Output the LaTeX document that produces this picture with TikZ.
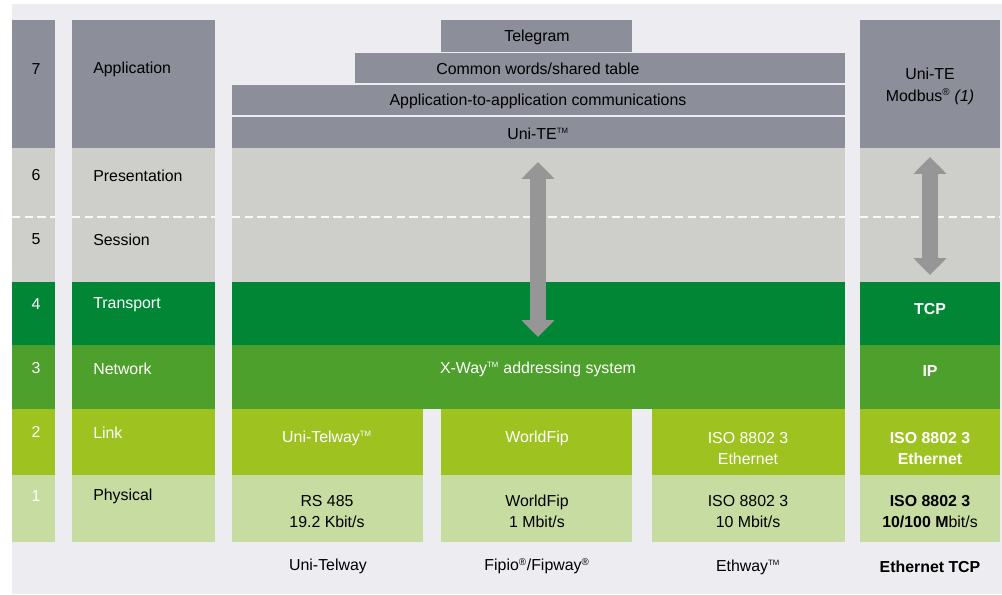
\documentclass[tikz,border=0pt]{standalone}
\usepackage{fontspec}
\setmainfont{Liberation Sans}
\usepackage{xcolor}
\usepackage{tikz}
\usetikzlibrary{arrows.meta, positioning}
\definecolor{bgpat}{RGB}{236,236,241}
\definecolor{appgray}{RGB}{140,142,153}
\definecolor{sesgray}{RGB}{206,206,203}
\definecolor{trgreen}{RGB}{0,134,52}
\definecolor{nwgreen}{RGB}{78,160,44}
\definecolor{lkgreen}{RGB}{158,195,33}
\definecolor{phgreen}{RGB}{199,220,160}
\definecolor{arrgray}{RGB}{150,150,150}
\newcommand{\pxu}{0.025cm}
\newcommand{\tmk}{\textsuperscript{\fontsize{5.5}{5.5}\selectfont TM}}
\newcommand{\rgm}{\textsuperscript{\fontsize{7}{7}\selectfont ®}}

\begin{document}
\begin{tikzpicture}[x=\pxu, y=-\pxu,
  lbl/.style={inner sep=0pt, font=\fontsize{11.3}{15}\selectfont, align=center, yshift=-1pt},
  lyr/.style={lbl, anchor=west},
  wtxt/.style={lbl, text=white},
  btxt/.style={lbl, font=\fontsize{11.3}{15}\selectfont\bfseries},
  wbtxt/.style={btxt, text=white},
  sep/.style={white!85!sesgray, line width=1.2pt, dash pattern=on 6pt off 3pt},
  arr/.style={{Triangle[width=0.8cm,length=0.42cm]}-{Triangle[width=0.8cm,length=0.42cm]},
              line width=0.4cm, arrgray}
]
\useasboundingbox (0,0) rectangle (1002,594);
\fill[bgpat] (12,4) rectangle (1002,594);

\foreach \xa/\xb in {12/55, 72/215, 860/1000}
  \fill[appgray] (\xa,20) rectangle (\xb,148);
\fill[appgray] (441,20) rectangle (632,52);
\fill[appgray] (355,53) rectangle (845,83);
\fill[appgray] (232,85) rectangle (845,115);
\fill[appgray] (232,117) rectangle (845,148);

\foreach \xa/\xb in {12/55, 72/215, 232/845, 860/1000} {
  \fill[sesgray] (\xa,148) rectangle (\xb,282);
  \draw[sep] (\xa,217) -- (\xb,217);
  \fill[trgreen] (\xa,282) rectangle (\xb,345);
  \fill[nwgreen] (\xa,345) rectangle (\xb,409);
}
\foreach \xa/\xb in {12/55, 72/215, 232/423, 441/632, 652/845, 860/1000} {
  \fill[lkgreen] (\xa,409) rectangle (\xb,475);
  \fill[phgreen] (\xa,475) rectangle (\xb,542);
}

\node[lbl] (n7) at (36,68)  {7};
\node[lbl] (n6) at (36,174) {6};
\node[lbl] (n5) at (36,238) {5};
\node[wtxt] (n4) at (36,303) {4};
\node[wtxt] (n3) at (36,367) {3};
\node[wtxt] (n2) at (36,431) {2};
\node[wtxt] (n1) at (36,495) {1};

\node[lyr] (l7) at (93,68)  {Application};
\node[lyr] (l6) at (93,174) {Presentation};
\node[lyr] (l5) at (93,238) {Session};
\node[lyr, text=white] (l4) at (93,303) {Transport};
\node[lyr, text=white] (l3) at (93,367) {Network};
\node[lyr, text=white] (l2) at (93,431) {Link};
\node[lyr] (l1) at (93,495) {Physical};

\node[lbl] (tele) at (537,36)  {Telegram};
\node[lbl] (cw)   at (538,67)  {Common words/shared table};
\node[lbl] (a2a)  at (538,100) {Application-to-application communications};
\node[lbl] (unite) at (538,132) {Uni-TE\tmk};
\node[lbl] (mbus) at (930,85)  {Uni-TE\\Modbus\rgm\ \textit{(1)}};

\coordinate (lt) at (538,162);
\coordinate (lb) at (538,337);
\draw[arr] (lt) -- (lb);
\coordinate (rt) at (930,157);
\coordinate (rb) at (930,275);
\draw[arr] (rt) -- (rb);

\node[wbtxt] (tcp) at (930,308) {TCP};
\node[wtxt] (xway) at (538,368) {X-Way\tmk\ addressing system};
\node[wbtxt] (ip) at (930,370) {IP};

\node[wtxt] (utw) at (327,437) {Uni-Telway\tmk};
\node[wtxt] (wfl) at (537,437) {WorldFip};
\node[wtxt] (isol) at (748,447) {ISO 8802 3\\Ethernet};
\node[wbtxt] (isor) at (930,447) {ISO 8802 3\\Ethernet};

\node[lbl] (rs) at (327,510) {RS 485\\19.2 Kbit/s};
\node[lbl] (wfp) at (537,510) {WorldFip\\1 Mbit/s};
\node[lbl] (isop) at (748,510) {ISO 8802 3\\10 Mbit/s};
\node[lbl] (isoq) at (930,510) {\textbf{ISO 8802 3}\\\textbf{10/100 M}bit/s};

\node[lbl] (b1) at (328,565) {Uni-Telway};
\node[lbl] (b2) at (537,565) {Fipio\rgm/Fipway\rgm};
\node[lbl] (b3) at (748,566) {Ethway\tmk};
\node[btxt] (b4) at (930,565) {Ethernet TCP};
\end{tikzpicture}
\end{document}
